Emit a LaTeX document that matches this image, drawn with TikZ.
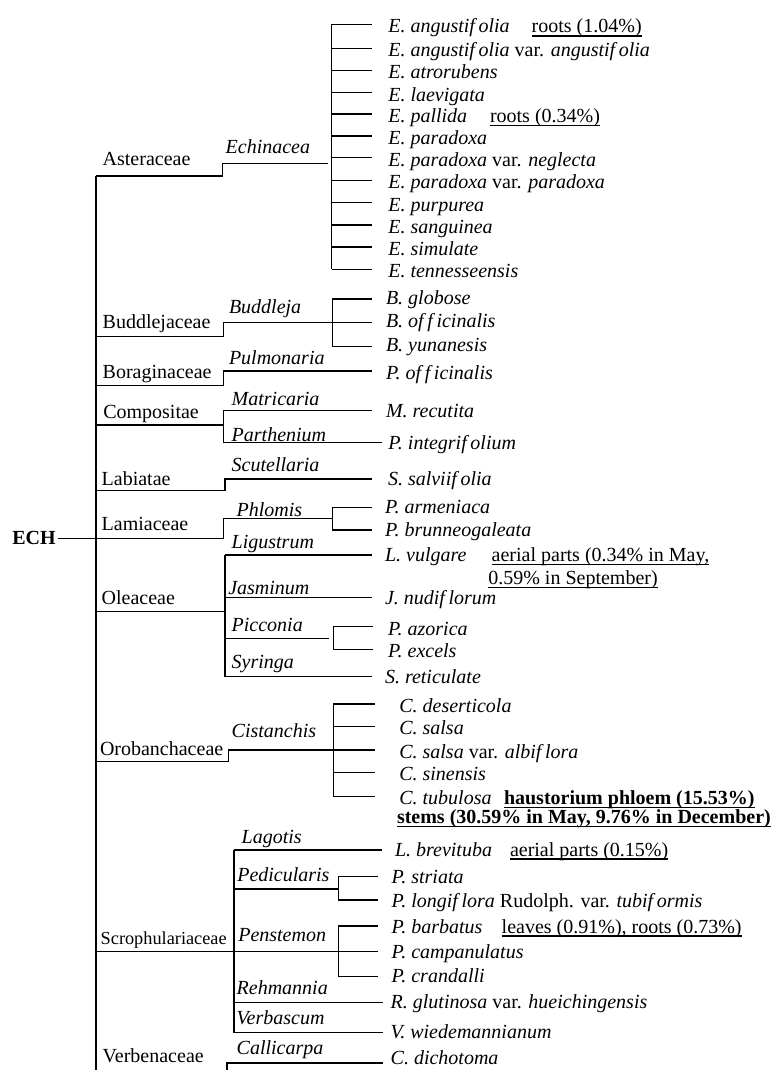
\documentclass[tikz,border=0pt]{standalone}
\usepackage{fontspec}
\setmainfont{Liberation Serif}
\newcommand\fk{\kern1.8pt}
\newcommand\ul[1]{\setbox0\hbox{#1}\rlap{\vrule height -1.1pt depth 1.8pt width \wd0}\box0}
\newcommand\elbow[5]{\coordinate (#1a) at (96,#2); \coordinate (#1b) at (#3,#2); \coordinate (#1c) at (#3,#4); \coordinate (#1d) at (#5,#4); \draw[ln] (#1a) -- (#1b) -- (#1c) -- (#1d);}
\newcommand\vbar[4]{\coordinate (#1t) at (#2,#3); \coordinate (#1u) at (#2,#4); \draw[ln] (#1t) -- (#1u);}
\newcommand\twig[4]{\coordinate (#1s) at (#2,#4); \coordinate (#1e) at (#3,#4); \draw[ln] (#1s) -- (#1e);}
\begin{document}
\begin{tikzpicture}[x=0.5pt,y=-0.5pt,
  ln/.style={line width=0.75pt},
  txt/.style={anchor=base west, inner sep=0pt, outer sep=0pt, font=\fontsize{10}{12}\selectfont},
  fam/.style={txt},
  gen/.style={txt, font=\fontsize{10}{12}\selectfont\itshape},
  sp/.style={txt},
  note/.style={txt},
  bnote/.style={txt, font=\fontsize{10}{12}\selectfont\bfseries}]
\useasboundingbox (0,0) rectangle (774,1070);

% root
\node[anchor=east, inner sep=0pt, font=\fontsize{10}{12}\selectfont\bfseries] (ech) at (56,538.3) {ECH};
\coordinate (rootj) at (96,538.3);
\draw[ln] ([xshift=1pt]ech.east) -- (rootj);
\coordinate (mtop) at (96,176);
\coordinate (mbot) at (96,1070);
\draw[ln] (mtop) -- (mbot);

% ---------------- Asteraceae
\elbow{ast}{176}{222.7}{163.3}{327.5}
\vbar{astb}{331.7}{24.3}{269.3}
\node[fam] (f-ast) at (102.7,165.7) {Asteraceae};
\node[gen] (g-ech) at (225.7,154) {Echinacea};
\twig{e1}{331.7}{372}{24.3}
\twig{e2}{331.7}{372}{48.3}
\twig{e3}{331.7}{372}{70.3}
\twig{e4}{331.7}{372}{92.7}
\twig{e5}{331.7}{372}{114}
\twig{e6}{331.7}{372}{136}
\twig{e7}{331.7}{372}{157.7}
\twig{e8}{331.7}{372}{180.3}
\twig{e9}{331.7}{372}{202.7}
\twig{e10}{331.7}{372}{225}
\twig{e11}{331.7}{372}{247}
\twig{e12}{331.7}{372}{269.3}
\node[sp] (s-e1) at (388.3,33) {\textit{E. angustif\fk olia}};
\node[note] (n-e1) at (531.7,33) {\ul{roots (1.04\%)}};
\node[sp] (s-e2) at (388.3,57) {\textit{E. angustif\fk olia} var. \textit{angustif\fk olia}};
\node[sp] (s-e3) at (388.3,79) {\textit{E. atrorubens}};
\node[sp] (s-e4) at (388.3,101.2) {\textit{E. laevigata}};
\node[sp] (s-e5) at (388.3,122.5) {\textit{E. pallida}};
\node[note] (n-e5) at (490,122.5) {\ul{roots (0.34\%)}};
\node[sp] (s-e6) at (388.3,144.5) {\textit{E. paradoxa}};
\node[sp] (s-e7) at (388.3,166.2) {\textit{E. paradoxa} var. \textit{neglecta}};
\node[sp] (s-e8) at (388.3,188.8) {\textit{E. paradoxa} var. \textit{paradoxa}};
\node[sp] (s-e9) at (388.3,211.2) {\textit{E. purpurea}};
\node[sp] (s-e10) at (388.3,233.5) {\textit{E. sanguinea}};
\node[sp] (s-e11) at (388.3,255.5) {\textit{E. simulate}};
\node[sp] (s-e12) at (388.3,277.5) {\textit{E. tennesseensis}};

% ---------------- Buddlejaceae
\elbow{bud}{336.7}{223.3}{322.7}{332.3}
\vbar{budb}{332.3}{299}{346.7}
\node[fam] (f-bud) at (102.7,328.3) {Buddlejaceae};
\node[gen] (g-bud) at (229,313.3) {Buddleja};
\twig{b1}{332.3}{372}{299}
\twig{b2}{332.3}{372}{322.7}
\twig{b3}{332.3}{372}{346.7}
\node[sp] (s-b1) at (386,304) {\textit{B. globose}};
\node[sp] (s-b2) at (386,327.5) {\textit{B. of\fk f\fk icinalis}};
\node[sp] (s-b3) at (386,351) {\textit{B. yunanesis}};

% ---------------- Boraginaceae
\elbow{bor}{385.7}{223.3}{371}{372}
\node[fam] (f-bor) at (102.7,378.3) {Boraginaceae};
\node[gen] (g-pul) at (229,364) {Pulmonaria};
\node[sp] (s-p1) at (386,379.5) {\textit{P. of\fk f\fk icinalis}};

% ---------------- Compositae
\coordinate (coma) at (96,425);
\coordinate (comb) at (223.3,425);
\draw[ln] (coma) -- (comb);
\vbar{comv}{223.3}{410.7}{442.7}
\twig{c1}{223.3}{372}{410.7}
\twig{c2}{223.3}{382}{442.7}
\node[fam] (f-com) at (103.3,418.3) {Compositae};
\node[gen] (g-mat) at (231.7,405) {Matricaria};
\node[gen] (g-par) at (231.7,441.2) {Parthenium};
\node[sp] (s-c1) at (386,417.5) {\textit{M. recutita}};
\node[sp] (s-c2) at (388.3,449.5) {\textit{P. integrif\fk olium}};

% ---------------- Labiatae
\elbow{lab}{490.7}{225}{479}{372}
\node[fam] (f-lab) at (101.7,485) {Labiatae};
\node[gen] (g-scu) at (231.7,471.7) {Scutellaria};
\node[sp] (s-l1) at (388,485.5) {\textit{S. salviif\fk olia}};

% ---------------- Lamiaceae
\elbow{lam}{538.3}{223.3}{518.3}{332.3}
\vbar{lamb}{332.3}{507.3}{530}
\twig{m1}{332.3}{372}{507.3}
\twig{m2}{332.3}{372}{530}
\node[fam] (f-lam) at (101.7,530.7) {Lamiaceae};
\node[gen] (g-phl) at (236.7,516.7) {Phlomis};
\node[sp] (s-m1) at (385,513.5) {\textit{P. armeniaca}};
\node[sp] (s-m2) at (385,536) {\textit{P. brunneogaleata}};

% ---------------- Oleaceae
\coordinate (olea) at (96,611.7);
\coordinate (oleb) at (225,611.7);
\draw[ln] (olea) -- (oleb);
\vbar{olev}{225}{555}{676.7}
\twig{o1}{225}{372}{555}
\twig{o2}{225}{372}{597.3}
\twig{o3}{225}{329.3}{638.3}
\vbar{pib}{333.3}{626.7}{649.3}
\twig{o3a}{333.3}{373}{626.7}
\twig{o3b}{333.3}{373}{649.3}
\twig{o4}{225}{372}{676.7}
\node[fam] (f-ole) at (101.7,604) {Oleaceae};
\node[gen] (g-lig) at (231.7,548.3) {Ligustrum};
\node[gen] (g-jas) at (228.3,594) {Jasminum};
\node[gen] (g-pic) at (231.7,631.7) {Picconia};
\node[gen] (g-syr) at (231.7,668.3) {Syringa};
\node[sp] (s-o1) at (385,561.5) {\textit{L. vulgare}};
\node[note] (n-o1) at (491.7,561.5) {\ul{aerial parts (0.34\% in May,}};
\node[note] (n-o1b) at (488.3,584.5) {\ul{0.59\% in September)}};
\node[sp] (s-o2) at (385,604.5) {\textit{J. nudif\fk lorum}};
\node[sp] (s-o3a) at (388,635.5) {\textit{P. azorica}};
\node[sp] (s-o3b) at (388,657.5) {\textit{P. excels}};
\node[sp] (s-o4) at (385,683.5) {\textit{S. reticulate}};

% ---------------- Orobanchaceae
\elbow{oro}{761.7}{228.3}{750}{333.3}
\vbar{orob}{333.3}{704}{796.7}
\twig{r1}{333.3}{375}{704}
\twig{r2}{333.3}{375}{726.7}
\twig{r3}{333.3}{375}{750}
\twig{r4}{333.3}{375}{772.7}
\twig{r5}{333.3}{375}{796.7}
\node[fam] (f-oro) at (100,755.7) {Orobanchaceae};
\node[gen] (g-cis) at (231.7,737) {Cistanchis};
\node[sp] (s-r1) at (399.3,712) {\textit{C. deserticola}};
\node[sp] (s-r2) at (399.3,734.7) {\textit{C. salsa}};
\node[sp] (s-r3) at (399.3,758) {\textit{C. salsa} var. \textit{albif\fk lora}};
\node[sp] (s-r4) at (399.3,780.7) {\textit{C. sinensis}};
\node[sp] (s-r5) at (399.3,804.7) {\textit{C. tubulosa}};
\node[bnote] (n-r5) at (504,804.7) {\ul{haustorium phloem (15.53\%)}};
\node[bnote] (n-r5b) at (397,823.5) {\ul{stems (30.59\% in May, 9.76\% in December)}};

% ---------------- Scrophulariaceae
\coordinate (scra) at (96,951.7);
\coordinate (scrb) at (378,951.7);
\draw[ln] (scra) -- (scrb);
\vbar{scrv}{234}{850}{1032.7}
\twig{h1}{234}{382}{850}
\twig{h2}{234}{338.3}{889}
\vbar{pedb}{338.3}{876.7}{900}
\twig{h2a}{338.3}{378}{876.7}
\twig{h2b}{338.3}{378}{900}
\vbar{penb}{338.3}{926}{976.7}
\twig{h3a}{338.3}{378}{926}
\twig{h3c}{338.3}{378}{976.7}
\twig{h4}{234}{383}{1002.7}
\twig{h5}{234}{383}{1032.7}
\node[fam, font=\fontsize{9.15}{11}\selectfont] (f-scr) at (100.7,944) {Scrophulariaceae};
\node[gen] (g-lag) at (241.7,843) {Lagotis};
\node[gen] (g-ped) at (237.3,881.7) {Pedicularis};
\node[gen] (g-pen) at (238.3,941.7) {Penstemon};
\node[gen] (g-reh) at (236.7,994) {Rehmannia};
\node[gen] (g-ver) at (236.7,1024) {Verbascum};
\node[sp] (s-h1) at (395,856) {\textit{L. brevituba}};
\node[note] (n-h1) at (510,856) {\ul{aerial parts (0.15\%)}};
\node[sp] (s-h2a) at (391.7,883) {\textit{P. striata}};
\node[sp] (s-h2b) at (391.7,907) {\textit{P. longif\fk lora} Rudolph. var. \textit{tubif\fk ormis}};
\node[sp] (s-h3a) at (391.7,933) {\textit{P. barbatus}};
\node[note] (n-h3a) at (501.7,933) {\ul{leaves (0.91\%), roots (0.73\%)}};
\node[sp] (s-h3b) at (391.7,958) {\textit{P. campanulatus}};
\node[sp] (s-h3c) at (391.7,982) {\textit{P. crandalli}};
\node[sp] (s-h4) at (390.7,1008) {\textit{R. glutinosa} var. \textit{hueichingensis}};
\node[sp] (s-h5) at (390.7,1038) {\textit{V. wiedemannianum}};

% ---------------- Verbenaceae
\coordinate (vera) at (227,1070);
\coordinate (verb) at (227,1063);
\coordinate (verc) at (383,1063);
\draw[ln] (vera) -- (verb) -- (verc);
\node[fam] (f-ver) at (102.7,1062) {Verbenaceae};
\node[gen] (g-cal) at (236.7,1054) {Callicarpa};
\node[sp] (s-v1) at (390.7,1064) {\textit{C. dichotoma}};
\end{tikzpicture}
\end{document}
